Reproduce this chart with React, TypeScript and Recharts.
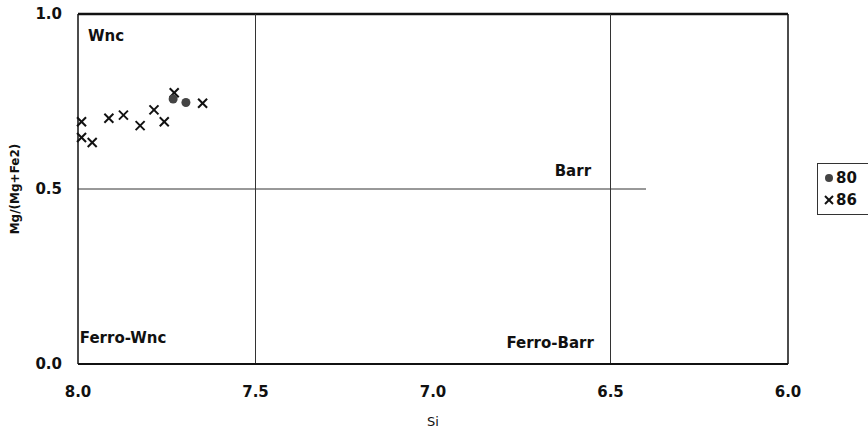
import { ScatterChart, Scatter, XAxis, YAxis, ReferenceLine, ReferenceDot } from 'recharts'

const FONT = '"DejaVu Sans", sans-serif'

const xTicks = [8.0, 7.5, 7.0, 6.5, 6.0]
const yTicks = [0.0, 0.5, 1.0]

const sample80 = [
  { si: 7.732, mg: 0.757 },
  { si: 7.696, mg: 0.747 },
]

const sample86 = [
  { si: 7.99, mg: 0.692 },
  { si: 7.99, mg: 0.647 },
  { si: 7.96, mg: 0.633 },
  { si: 7.913, mg: 0.702 },
  { si: 7.872, mg: 0.711 },
  { si: 7.825, mg: 0.681 },
  { si: 7.786, mg: 0.726 },
  { si: 7.757, mg: 0.692 },
  { si: 7.729, mg: 0.775 },
  { si: 7.649, mg: 0.745 },
]

const fieldLabels = [
  { name: 'Wnc', si: 7.921, mg: 0.937 },
  { name: 'Barr', si: 6.606, mg: 0.551 },
  { name: 'Ferro-Wnc', si: 7.873, mg: 0.074 },
  { name: 'Ferro-Barr', si: 6.67, mg: 0.06 },
]

const Cross = (props: any) => {
  const { cx, cy } = props
  const s = 4.5
  return (
    <g stroke="#111" strokeWidth={2}>
      <line x1={cx - s} y1={cy - s} x2={cx + s} y2={cy + s} />
      <line x1={cx - s} y1={cy + s} x2={cx + s} y2={cy - s} />
    </g>
  )
}

const Dot = (props: any) => <circle cx={props.cx} cy={props.cy} r={4.5} fill="#444" />

const LegendBox = () => (
  <div
    style={{
      position: 'absolute',
      left: 817,
      top: 163,
      border: '1.5px solid #333',
      width: 60,
      height: 44,
      padding: '3px 0 3px 6px',
      fontFamily: FONT,
      fontWeight: 'bold',
      fontSize: 15,
      lineHeight: '22px',
      color: '#111',
    }}
  >
    <div>
      <svg width={10} height={10} style={{ marginRight: 2 }}>
        <circle cx={5} cy={5} r={4} fill="#444" />
      </svg>
      80
    </div>
    <div>
      <svg width={10} height={10} style={{ marginRight: 2 }}>
        <g stroke="#111" strokeWidth={2}>
          <line x1={1} y1={1} x2={9} y2={9} />
          <line x1={1} y1={9} x2={9} y2={1} />
        </g>
      </svg>
      86
    </div>
  </div>
)

export default function App() {
  return (
    <div style={{ position: 'absolute', left: 0, top: 0, width: 868, height: 438, overflow: 'hidden', background: '#fff' }}>
      <ScatterChart width={868} height={438} margin={{ top: 14, right: 80, left: 0, bottom: 0 }}>
        <XAxis
          type="number"
          dataKey="si"
          domain={[6, 8]}
          reversed
          ticks={xTicks}
          tickFormatter={(v) => v.toFixed(1)}
          tickLine={false}
          tickSize={0}
          tickMargin={22}
          height={74}
          axisLine={{ stroke: '#111', strokeWidth: 2 }}
          tick={{ fontSize: 15, fontFamily: FONT, fontWeight: 'bold', fill: '#111' }}
          label={{ value: 'Si', position: 'insideBottom', offset: 12, style: { fontSize: 13, fontFamily: FONT, fill: '#111' } }}
        />
        <YAxis
          type="number"
          dataKey="mg"
          domain={[0, 1]}
          ticks={yTicks}
          tickFormatter={(v) => v.toFixed(1)}
          tickLine={false}
          tickSize={0}
          tickMargin={16}
          width={78}
          axisLine={{ stroke: '#111', strokeWidth: 1.5 }}
          tick={{ fontSize: 15, fontFamily: FONT, fontWeight: 'bold', fill: '#111' }}
          label={{ value: 'Mg/(Mg+Fe2)', angle: -90, position: 'insideLeft', offset: 15, style: { textAnchor: 'middle', fontSize: 12, fontFamily: FONT, fontWeight: 'bold', fill: '#111' } }}
        />
        <ReferenceLine y={1} stroke="#111" strokeWidth={2.5} />
        <ReferenceLine x={6} stroke="#111" strokeWidth={1.5} />
        <ReferenceLine x={7.5} stroke="#333" strokeWidth={1} />
        <ReferenceLine x={6.5} stroke="#333" strokeWidth={1} />
        <ReferenceLine segment={[{ x: 8, y: 0.5 }, { x: 6.4, y: 0.5 }]} stroke="#333" strokeWidth={1} />
        {fieldLabels.map((f) => (
          <ReferenceDot
            key={f.name}
            x={f.si}
            y={f.mg}
            r={0}
            fill="none"
            stroke="none"
            label={{ value: f.name, position: 'center', style: { fontSize: 15, fontFamily: FONT, fontWeight: 'bold', fill: '#111' } }}
          />
        ))}
        <Scatter name="86" data={sample86} shape={<Cross />} isAnimationActive={false} />
        <Scatter name="80" data={sample80} shape={<Dot />} isAnimationActive={false} />
      </ScatterChart>
      <LegendBox />
    </div>
  )
}
